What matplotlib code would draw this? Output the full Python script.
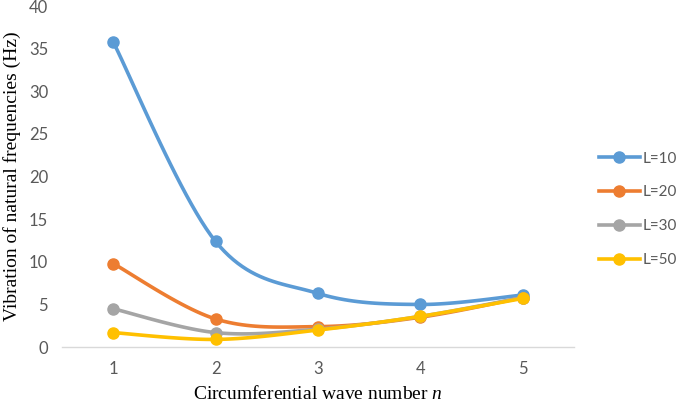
import numpy as np
import matplotlib.pyplot as plt

n = [1, 2, 3, 4, 5]
L10 = [35.8, 12.4, 6.3, 5.0, 6.1]
L20 = [9.8, 3.3, 2.4, 3.5, 5.8]
L30 = [4.5, 1.7, 2.1, 3.6, 5.8]
L50 = [1.7, 0.9, 2.0, 3.6, 5.7]
labels = ['L=10', 'L=20', 'L=30', 'L=50']
colors = ['#5B9BD5', '#ED7D31', '#A5A5A5', '#FFC000']

plt.rcParams['mathtext.fontset'] = 'custom'
plt.rcParams['mathtext.it'] = 'Liberation Serif:italic'
plt.rcParams['mathtext.rm'] = 'Liberation Serif'


def smooth(x, y, k=24):
    # catmull-rom style curve through the points, like excel's smoothed lines
    x = np.asarray(x, float)
    y = np.asarray(y, float)
    px = np.concatenate([[x[0]], x, [x[-1]]])
    py = np.concatenate([[y[0]], y, [y[-1]]])
    t = np.linspace(0, 1, k)
    xs, ys = [], []
    for i in range(1, len(x)):
        p0 = np.array([px[i], py[i]])
        p3 = np.array([px[i + 1], py[i + 1]])
        c1 = p0 + (p3 - np.array([px[i - 1], py[i - 1]])) / 6
        c2 = p3 - (np.array([px[i + 2], py[i + 2]]) - p0) / 6
        b = ((1 - t) ** 3)[:, None] * p0 + (3 * (1 - t) ** 2 * t)[:, None] * c1 \
            + (3 * (1 - t) * t ** 2)[:, None] * c2 + (t ** 3)[:, None] * p3
        xs.extend(b[:, 0])
        ys.extend(b[:, 1])
    return xs, ys


fig = plt.figure(figsize=(6.85, 4.05), dpi=100)
ax = fig.add_axes([0.0905, 0.143, 0.747, 0.842])

for ys, lab, c in zip([L10, L20, L30, L50], labels, colors):
    sx, sy = smooth(n, ys)
    ax.plot(sx, sy, color=c, lw=2.6, solid_capstyle='round')
    ax.plot(n, ys, 'o', color=c, ms=8)
    ax.plot([], [], '-o', color=c, lw=2.6, ms=8, label=lab)

ax.set_xlim(0.5, 5.5)
ax.set_ylim(0, 40)
ax.set_xticks(n)
ax.set_yticks(range(0, 41, 5))
for s in ['top', 'right', 'left']:
    ax.spines[s].set_visible(False)
ax.spines['bottom'].set_color('#D9D9D9')
ax.spines['bottom'].set_linewidth(1)
ax.tick_params(length=0, labelsize=12, labelcolor='#595959')
ax.tick_params(axis='y', pad=10)
ax.tick_params(axis='x', pad=10)
for t in ax.get_xticklabels() + ax.get_yticklabels():
    t.set_family('Lato')

ax.set_xlabel('Circumferential wave number $n$', family='Liberation Serif',
              fontsize=14, labelpad=6)
ax.set_ylabel('Vibration of natural frequencies (Hz)', family='Liberation Serif',
              fontsize=14, labelpad=6)

leg = fig.legend(loc='center left', bbox_to_anchor=(0.874, 0.483), frameon=False,
                 prop={'family': 'Lato', 'size': 11}, labelspacing=1.3,
                 handlelength=2.7, handletextpad=0.15, borderpad=0,
                 borderaxespad=0)
for t in leg.get_texts():
    t.set_color('#595959')

fig.savefig('out.png', dpi=100)
